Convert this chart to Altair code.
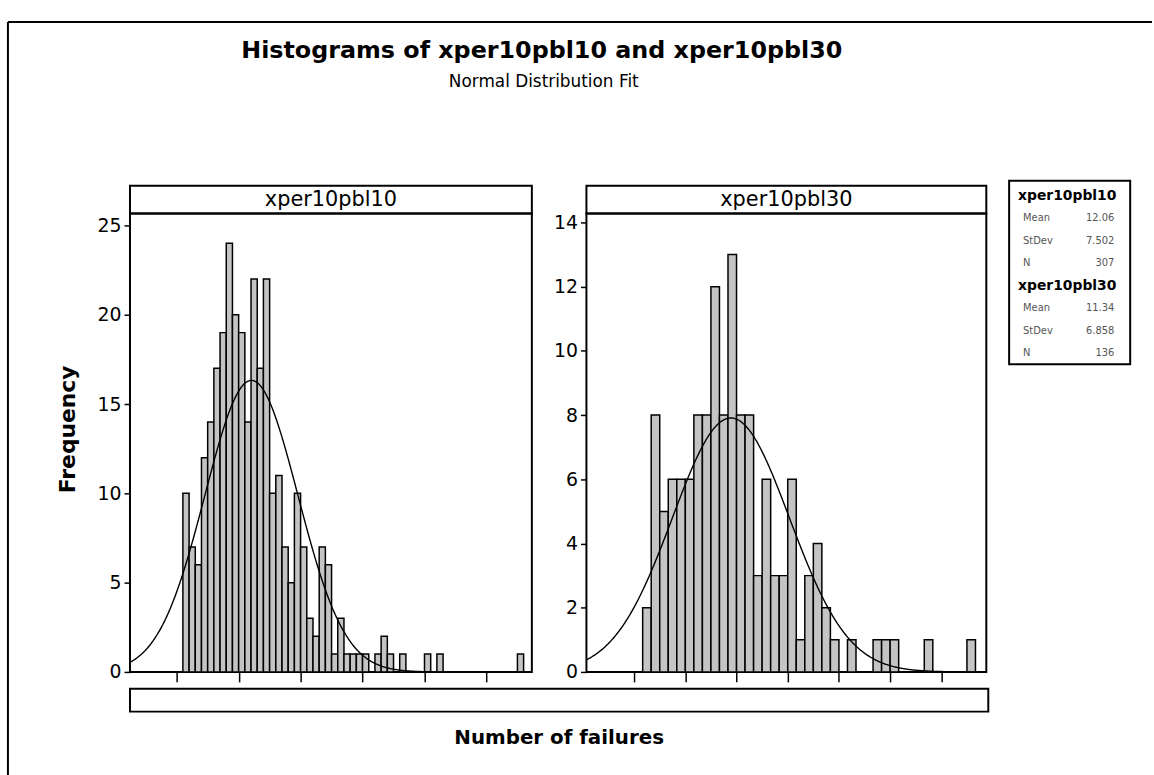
import altair as alt
import pandas as pd

FONT = "DejaVu Sans"
BAR_FILL = "#c4c4c4"

# Frequencies per one-failure bin; the first bin of each sample covers [1, 2)
xper10pbl10_counts = [10, 7, 6, 12, 14, 17, 19, 24, 20, 19, 14, 22, 17, 22,
                      10, 11, 7, 5, 10, 7, 3, 2, 7, 6,
                      1, 3, 1, 1, 1, 1, 0, 1, 2, 1, 0, 1, 0, 0, 0, 1, 0, 1,
                      0, 0, 0, 0, 0, 0, 0, 0, 0, 0, 0, 0, 1]
xper10pbl30_counts = [2, 8, 5, 6, 6, 6, 8, 8, 12, 8, 13, 8, 8, 3, 6, 3, 3, 6,
                      1, 3, 4, 2, 1, 0, 1, 0, 0, 1, 1, 1, 0, 0, 0, 1, 0, 0, 0, 0, 1]
first_bin = [1, 1]

# Summary statistics shown in the side table (and used for the normal fit)
sample_names = ["xper10pbl10", "xper10pbl30"]
sample_means = [12.06, 11.34]
sample_stdevs = [7.502, 6.858]
sample_ns = [307, 136]

# Axis set-up per panel
x_domains = [[-7.54, 57.33], [-5.59, 41.27]]
y_domains = [[0, 25.67], [0, 14.28]]
x_tick_values = [[0, 10, 20, 30, 40, 50], [0, 6, 12, 18, 24, 30, 36]]
y_tick_values = [[0, 5, 10, 15, 20, 25], [0, 2, 4, 6, 8, 10, 12, 14]]
panel_widths = [405, 403]
PLOT_H = 462
STRIP_H = 28

one = pd.DataFrame({"a": [0]})


def text_layer(text, x, y, size, weight="normal", align="center", baseline="alphabetic",
               color="black"):
    return alt.Chart(one).mark_text(
        font=FONT, fontSize=size, fontWeight=weight, color=color,
        align=align, baseline=baseline,
    ).encode(x=alt.value(x), y=alt.value(y), text=alt.value(text))


def box_layer(x, x2, y, y2):
    return alt.Chart(one).mark_rect(fill="transparent", stroke="black", strokeWidth=2).encode(
        x=alt.value(x), x2=alt.value(x2), y=alt.value(y), y2=alt.value(y2))


def hist_layers(k, counts):
    w = panel_widths[k]
    df = pd.DataFrame({
        "start": [first_bin[k] + i for i in range(len(counts))],
        "count": counts,
    })
    df["end"] = df["start"] + 1
    df = df[df["count"] > 0]

    xs = alt.Scale(domain=x_domains[k], nice=False, zero=False)
    ys = alt.Scale(domain=y_domains[k], nice=False, zero=False)

    x_axis = alt.Axis(values=x_tick_values[k], labels=False, tickSize=10,
                      tickWidth=1.5, title=None, grid=False, domain=False)
    y_axis_args = dict(values=y_tick_values[k], tickSize=6, tickWidth=1.5,
                       labelPadding=3, labelFontSize=19, grid=False, domain=False)
    if k == 0:
        y_axis = alt.Axis(title="Frequency", titleFontSize=22, titleFontWeight="bold",
                          titleX=-63, titleY=217, titleBaseline="middle",
                          titleAlign="center", **y_axis_args)
    else:
        y_axis = alt.Axis(title=None, **y_axis_args)

    bars = alt.Chart(df).mark_bar(fill=BAR_FILL, stroke="black", strokeWidth=1.5).encode(
        x=alt.X("start:Q", scale=xs, axis=x_axis),
        x2="end:Q",
        y=alt.Y("count:Q", scale=ys, axis=y_axis),
        y2=alt.datum(0),
    )

    mean, sd, n = sample_means[k], sample_stdevs[k], sample_ns[k]
    curve = (
        alt.Chart(alt.sequence(x_domains[k][0], x_domains[k][1] + 0.05, 0.1, as_="x"))
        .transform_calculate(
            freq=f"{n} * exp(-0.5 * pow((datum.x - {mean}) / {sd}, 2)) / ({sd} * sqrt(2 * PI))"
        )
        .mark_line(color="black", strokeWidth=1.4)
        .encode(x=alt.X("x:Q", scale=xs, axis=x_axis),
                y=alt.Y("freq:Q", scale=ys, axis=y_axis))
    )

    # Header strip above the plot with the sample name
    strip = box_layer(0, w, -STRIP_H, 0)
    strip_text = text_layer(sample_names[k], w / 2, -STRIP_H / 2, 21, baseline="middle")
    return [bars, curve, strip, strip_text]


# Left panel, carrying the page titles, the bottom box and the page frame
left_layers = hist_layers(0, xper10pbl10_counts) + [
    box_layer(0, 865, 479, 502),
    text_layer("Number of failures", 432.5, 535, 20, weight="bold"),
    text_layer("Histograms of xper10pbl10 and xper10pbl30", 415, -157, 24, weight="bold"),
    text_layer("Normal Distribution Fit", 417, -127, 17),
    alt.Chart(one).mark_rule(color="black", strokeWidth=2).encode(
        x=alt.value(-123), y=alt.value(-193), y2=alt.value(600)),
    alt.Chart(one).mark_rule(color="black", strokeWidth=2).encode(
        x=alt.value(-123), x2=alt.value(1030), y=alt.value(-193)),
]
left = alt.layer(*left_layers).properties(width=panel_widths[0], height=PLOT_H)

# Side table with the fitted parameters, drawn beside the right panel
LX = 426
ROW_TOP = -18
ROW_STEP = 22.7
legend_layers = [box_layer(LX, LX + 122, -33, 152)]
for k, name in enumerate(sample_names):
    entries = [("Mean", f"{sample_means[k]:.2f}"),
               ("StDev", f"{sample_stdevs[k]:.3f}"),
               ("N", f"{sample_ns[k]}")]
    y0 = ROW_TOP + 4 * k * ROW_STEP
    legend_layers.append(text_layer(name, LX + 9, y0, 14, weight="bold",
                                    align="left", baseline="middle"))
    for j, (label, value) in enumerate(entries):
        yj = y0 + (j + 1) * ROW_STEP
        legend_layers.append(text_layer(label, LX + 14, yj, 10, align="left",
                                        baseline="middle", color="#555555"))
        legend_layers.append(text_layer(value, LX + 106, yj, 10, align="right",
                                        baseline="middle", color="#555555"))

right_layers = hist_layers(1, xper10pbl30_counts) + legend_layers
right = alt.layer(*right_layers).properties(width=panel_widths[1], height=PLOT_H)

chart = (
    alt.hconcat(left, right, spacing=55, bounds="flush")
    .properties(padding={"left": 6, "top": 17, "right": 0, "bottom": 0})
    .configure_view(stroke="black", strokeWidth=2)
    .configure_axis(labelFont=FONT, labelColor="black", tickColor="black",
                    titleFont=FONT, titleColor="black")
)

chart.save("out.html", embed_options={"renderer": "svg", "actions": False})
